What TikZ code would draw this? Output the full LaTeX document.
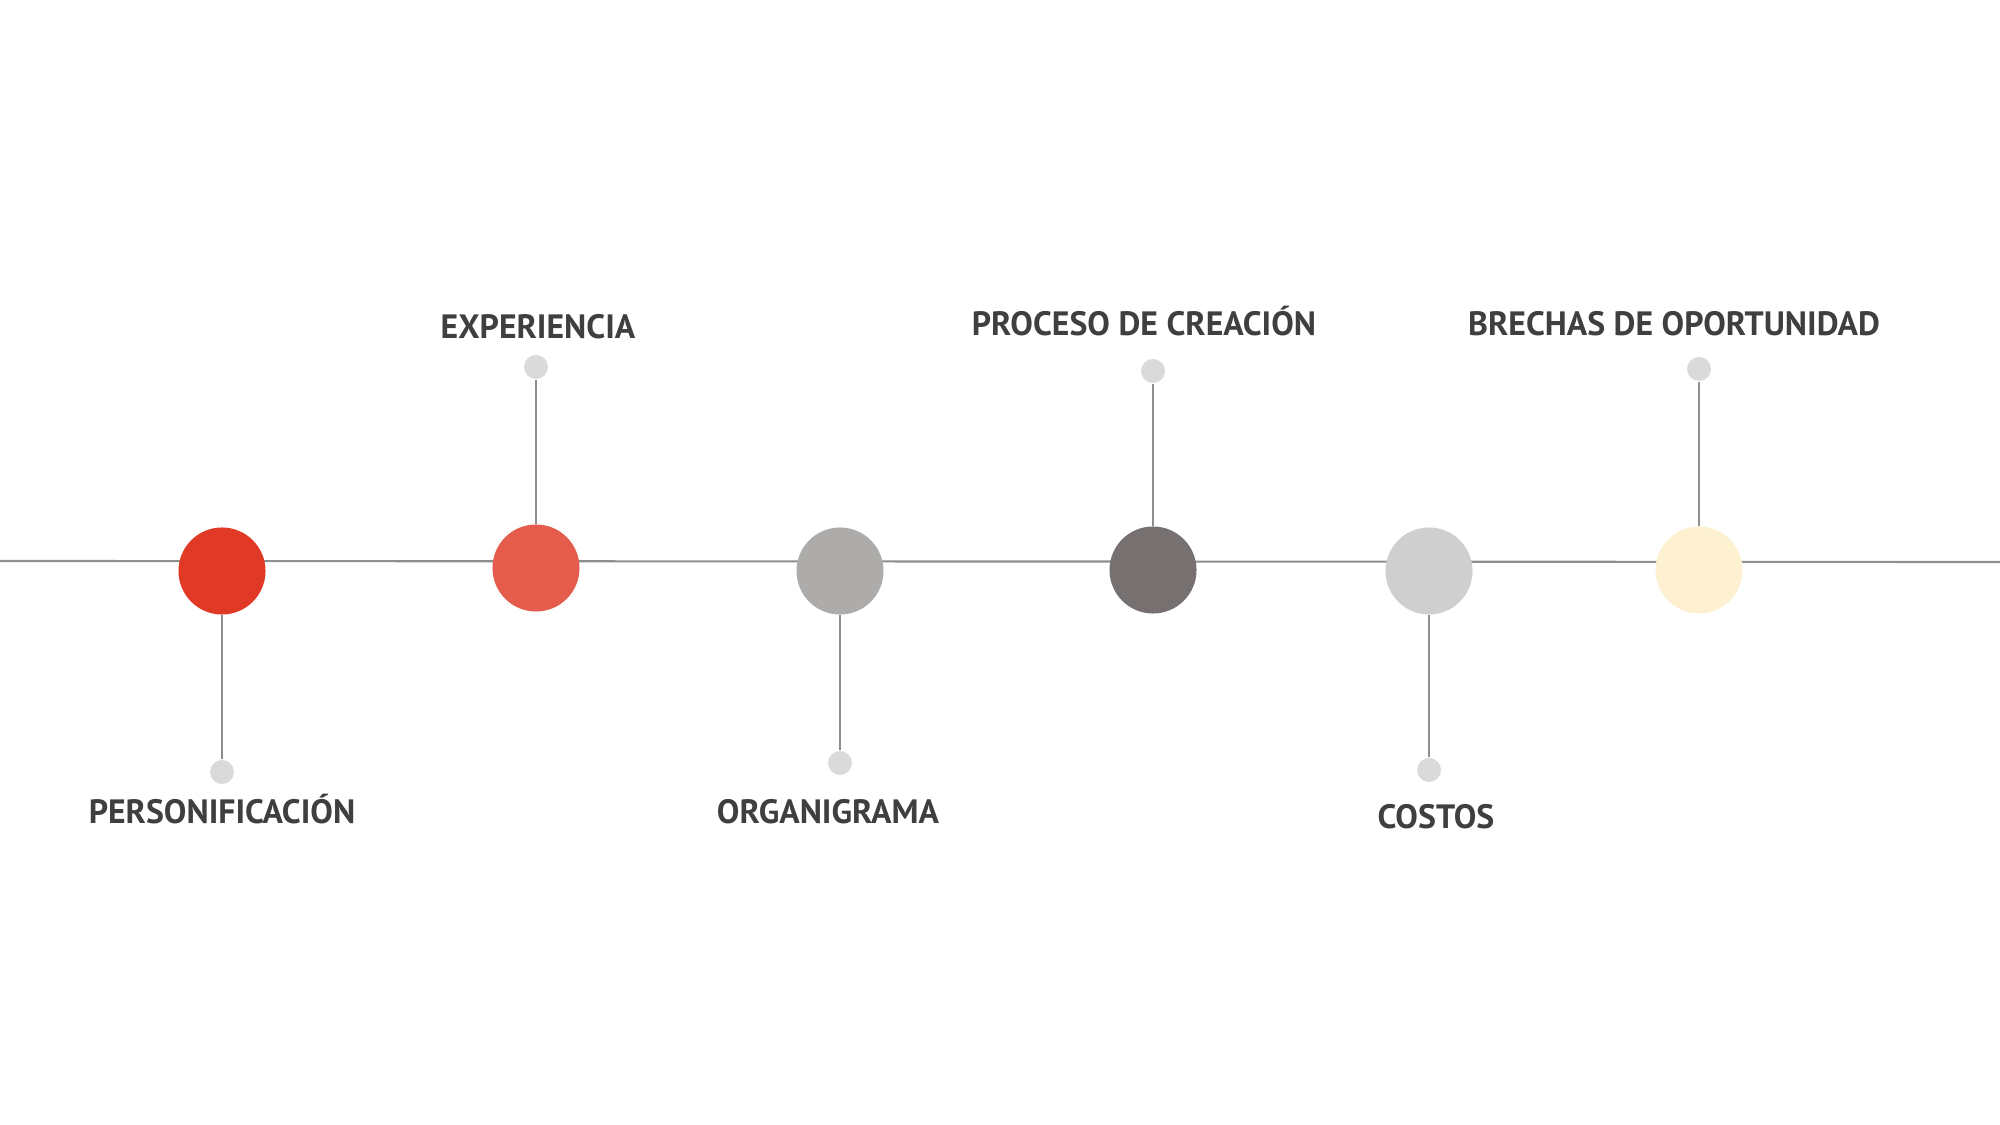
\documentclass[tikz,border=0pt]{standalone}
\usepackage{fontspec}
\setmainfont{PT Sans}
\usepackage{tikz}
\usetikzlibrary{positioning}

\definecolor{hitoA}{HTML}{E03A26}
\definecolor{hitoB}{HTML}{E55B4C}
\definecolor{hitoC}{HTML}{ADACAB}
\definecolor{hitoD}{HTML}{767070}
\definecolor{hitoE}{HTML}{D0CFD0}
\definecolor{hitoF}{HTML}{FEF1D1}
\definecolor{punto}{HTML}{DADADA}
\definecolor{linea}{HTML}{8E8E8E}
\definecolor{texto}{HTML}{3F3F3F}

\begin{document}
\begin{tikzpicture}[
    x = 0.01cm, y = -0.01cm,
    hito/.style = {circle, minimum size=0.87cm, inner sep=0pt},
    punto/.style = {circle, fill=punto, minimum size=0.24cm, inner sep=0pt},
    eje/.style = {draw=linea, line width=0.6pt},
    titulo/.style = {anchor=base, text=texto, inner sep=0pt,
      font=\fontsize{9.6}{10}\selectfont\bfseries}
    ]
    \useasboundingbox (0,0) rectangle (2000,1125);
    \coordinate (ini) at (0,561);
    \coordinate (fin) at (2000,562);
    \draw[eje] (ini) -- (fin);

    \node[hito, fill=hitoA] (c1) at (222,571) {};
    \node[hito, fill=hitoB] (c2) at (536,568) {};
    \node[hito, fill=hitoC] (c3) at (840,571) {};
    \node[hito, fill=hitoD] (c4) at (1153,570) {};
    \node[hito, fill=hitoE] (c5) at (1429,571) {};
    \node[hito, fill=hitoF] (c6) at (1699,570) {};

    \node[punto] (p1) at (222,772) {};
    \node[punto] (p2) at (536,367) {};
    \node[punto] (p3) at (840,763) {};
    \node[punto] (p4) at (1153,371) {};
    \node[punto] (p5) at (1429,770) {};
    \node[punto] (p6) at (1699,369) {};

    \foreach \i in {1,...,6}
      \draw[eje] (p\i) -- (c\i);

    \node[titulo] (t1) at (222,823) {PERSONIFICACIÓN};
    \node[titulo] (t2) at (538,339) {EXPERIENCIA};
    \node[titulo] (t3) at (828,823) {ORGANIGRAMA};
    \node[titulo] (t4) at (1144,336) {PROCESO DE CREACIÓN};
    \node[titulo] (t5) at (1436,828) {COSTOS};
    \node[titulo] (t6) at (1674,336) {BRECHAS DE OPORTUNIDAD};
\end{tikzpicture}
\end{document}
